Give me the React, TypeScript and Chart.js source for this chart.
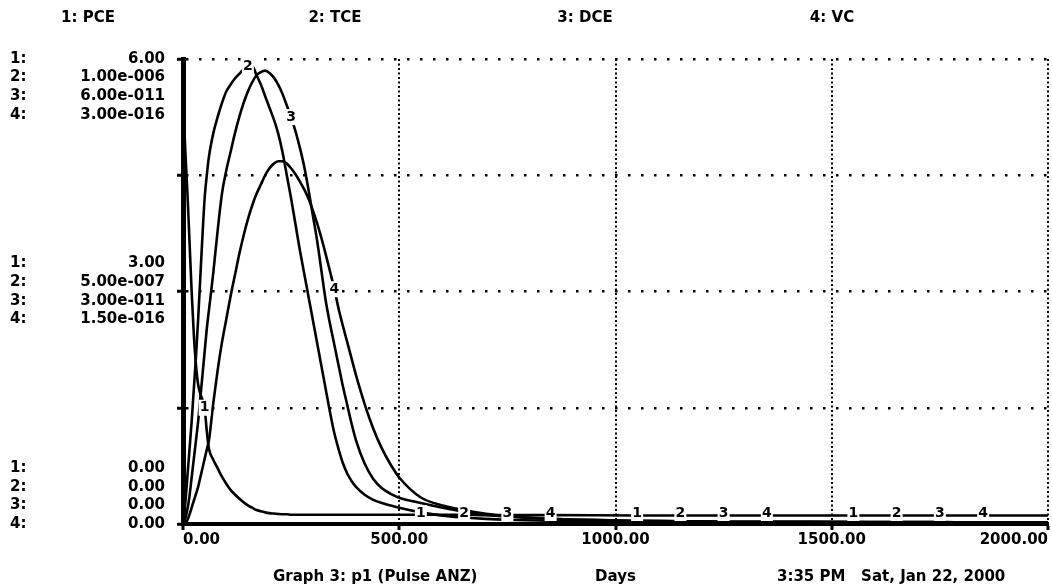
import React, { useEffect, useRef } from 'react';
import { Chart, registerables } from 'chart.js';

Chart.register(...registerables);

// ---- data (time in days) ----
const days = [
  0, 2, 5, 10, 15, 20, 25, 30, 35, 40, 45, 50, 55, 60,
  70, 80, 90, 100, 110, 120, 130, 140, 150, 160, 170, 180, 190, 200, 210, 220, 230, 240,
  250, 260, 270, 280, 290, 300, 310, 320, 330, 340, 350, 360, 370, 380, 390, 400,
  420, 440, 460, 480, 500,
  550, 600, 650, 700, 750,
  850, 1050, 1150, 1250, 1350, 1550, 1650, 1750, 1850, 2000,
];

const pce = [
  5.5, 5.25, 4.85, 4.3, 3.65, 3.0, 2.45, 2.05, 1.8, 1.68, 1.6, 1.5, 1.2, 0.97,
  0.83, 0.72, 0.61, 0.52, 0.44, 0.38, 0.33, 0.28, 0.24, 0.21, 0.18, 0.165, 0.15, 0.14, 0.135, 0.13, 0.125, 0.125,
  0.12, 0.12, 0.12, 0.12, 0.12, 0.12, 0.12, 0.12, 0.12, 0.12, 0.12, 0.12, 0.12, 0.12, 0.12, 0.12,
  0.12, 0.12, 0.12, 0.12, 0.12,
  0.12, 0.12, 0.12, 0.115, 0.115,
  0.115, 0.11, 0.11, 0.11, 0.11, 0.11, 0.11, 0.11, 0.11, 0.11,
];

const tce = [
  0, 1e-8, 4e-8, 1e-7, 1.6e-7, 2.2e-7, 2.9e-7, 3.6e-7, 4.4e-7, 5.3e-7, 6.2e-7, 7e-7, 7.5e-7, 7.9e-7,
  8.4e-7, 8.75e-7, 9.05e-7, 9.3e-7, 9.45e-7, 9.58e-7, 9.68e-7, 9.78e-7, 9.85e-7, 9.85e-7, 9.65e-7, 9.45e-7, 9.2e-7, 8.95e-7, 8.7e-7, 8.4e-7, 8e-7, 7.5e-7,
  7e-7, 6.45e-7, 5.9e-7, 5.4e-7, 4.9e-7, 4.4e-7, 3.9e-7, 3.4e-7, 2.9e-7, 2.4e-7, 1.95e-7, 1.6e-7, 1.3e-7, 1.08e-7, 9.2e-8, 8e-8,
  6.3e-8, 5.2e-8, 4.5e-8, 4e-8, 3.5e-8,
  2.5e-8, 1.8e-8, 1.4e-8, 1.1e-8, 9e-9,
  7e-9, 5e-9, 5e-9, 4e-9, 4e-9, 4e-9, 3e-9, 3e-9, 3e-9, 3e-9,
];

const dce = [
  0, 1.2e-13, 6e-13, 1.8e-12, 3.6e-12, 6e-12, 8.4e-12, 1.08e-11, 1.32e-11, 1.62e-11, 1.92e-11, 2.22e-11, 2.52e-11, 2.76e-11,
  3.24e-11, 3.78e-11, 4.26e-11, 4.56e-11, 4.8e-11, 5.04e-11, 5.25e-11, 5.43e-11, 5.58e-11, 5.7e-11, 5.79e-11, 5.83e-11, 5.85e-11, 5.82e-11, 5.76e-11, 5.67e-11, 5.55e-11, 5.4e-11,
  5.25e-11, 5.07e-11, 4.86e-11, 4.62e-11, 4.32e-11, 3.99e-11, 3.66e-11, 3.27e-11, 2.88e-11, 2.58e-11, 2.31e-11, 2.04e-11, 1.77e-11, 1.53e-11, 1.29e-11, 1.08e-11,
  7.8e-12, 5.8e-12, 4.6e-12, 3.9e-12, 3.4e-12,
  2.7e-12, 2.1e-12, 1.6e-12, 1.2e-12, 9.6e-13,
  6.6e-13, 4.2e-13, 3.6e-13, 3e-13, 3e-13, 2.4e-13, 2.4e-13, 2.4e-13, 1.8e-13, 1.8e-13,
];

const vc = [
  0, 0, 6e-19, 2.4e-18, 6e-18, 1.05e-17, 1.5e-17, 1.95e-17, 2.4e-17, 3e-17, 3.6e-17, 4.2e-17, 4.8e-17, 5.4e-17,
  7.8e-17, 9.9e-17, 1.17e-16, 1.32e-16, 1.47e-16, 1.605e-16, 1.74e-16, 1.86e-16, 1.965e-16, 2.055e-16, 2.13e-16, 2.19e-16, 2.25e-16, 2.295e-16, 2.325e-16, 2.34e-16, 2.34e-16, 2.325e-16,
  2.295e-16, 2.256e-16, 2.211e-16, 2.16e-16, 2.1e-16, 2.025e-16, 1.941e-16, 1.845e-16, 1.74e-16, 1.629e-16, 1.515e-16, 1.386e-16, 1.275e-16, 1.17e-16, 1.065e-16, 9.6e-17,
  7.74e-17, 6.15e-17, 4.86e-17, 3.84e-17, 3e-17,
  1.71e-17, 1.2e-17, 9e-18, 6.6e-18, 5.1e-18,
  3.3e-18, 2.1e-18, 1.8e-18, 1.5e-18, 1.5e-18, 1.2e-18, 1.2e-18, 1.2e-18, 9e-19, 9e-19,
];

const seriesNames = ['PCE', 'TCE', 'DCE', 'VC'];
const seriesPrefixes = ['1:', '2:', '3:', '4:'];
const scaleMax = [6, 1e-6, 6e-11, 3e-16];
const topTickLabels = ['6.00', '1.00e-006', '6.00e-011', '3.00e-016'];
const midTickLabels = ['3.00', '5.00e-007', '3.00e-011', '1.50e-016'];
const zeroTickLabels = ['0.00', '0.00', '0.00', '0.00'];
const xTickValues = [0, 500, 1000, 1500, 2000];
const xTickLabels = ['0.00', '500.00', '1000.00', '1500.00', '2000.00'];
const curveLabelDays = [
  [50, 550, 1050, 1550],
  [150, 650, 1150, 1650],
  [250, 750, 1250, 1750],
  [350, 850, 1350, 1850],
];
const xTitle = 'Days';
const footerText = 'Graph 3: p1 (Pulse ANZ)';
const stampText = '3:35 PM   Sat, Jan 22, 2000';

const FONT = '"DejaVu Sans", "Liberation Sans", Arial, sans-serif';

const textPlugin = {
  id: 'stellaText',
  afterDraw(chart: any) {
    const ctx = chart.ctx;
    ctx.save();
    ctx.fillStyle = '#000';
    ctx.font = `bold 15px ${FONT}`;
    ctx.textBaseline = 'middle';
    ctx.textAlign = 'center';
    const titleX = [88, 335, 585, 832];
    seriesNames.forEach((n, i) => ctx.fillText(`${i + 1}: ${n}`, titleX[i], 18));
    ctx.textAlign = 'left';
    ctx.fillText(footerText, 273, 577);
    ctx.fillText(stampText, 777, 577);
    ctx.restore();
  },
};

const curveLabelPlugin = {
  id: 'curveLabels',
  afterDatasetsDraw(chart: any) {
    const ctx = chart.ctx;
    const area = chart.chartArea;
    ctx.save();
    ctx.font = `bold 14px ${FONT}`;
    ctx.textAlign = 'center';
    ctx.textBaseline = 'middle';
    chart.data.datasets.forEach((_ds: any, i: number) => {
      const meta = chart.getDatasetMeta(i);
      curveLabelDays[i].forEach((d) => {
        const idx = days.indexOf(d);
        const pt = meta.data[idx];
        if (!pt) return;
        const x = pt.x;
        const y = Math.min(pt.y, area.bottom - 11);
        ctx.fillStyle = '#fff';
        ctx.fillRect(x - 6, y - 8, 12, 16);
        ctx.fillStyle = '#000';
        ctx.fillText(String(i + 1), x, y);
      });
    });
    ctx.restore();
  },
};

const near = (a: number, b: number) => Math.abs(a - b) < 1e-9;

export default function App() {
  const ref = useRef<HTMLCanvasElement | null>(null);

  useEffect(() => {
    if (!ref.current) return;
    Chart.defaults.font.family = FONT;
    Chart.defaults.color = '#000';
    const series = [pce, tce, dce, vc];
    const chart = new Chart(ref.current, {
      type: 'line',
      data: {
        datasets: series.map((vals, i) => ({
          label: seriesNames[i],
          data: days.map((d, j) => ({ x: d, y: vals[j] })),
          yAxisID: i === 0 ? 'y' : 'y' + (i + 1),
          borderColor: '#000',
          borderWidth: 2.6,
          pointRadius: 0,
          fill: false,
          cubicInterpolationMode: 'monotone' as const,
        })),
      },
      options: {
        responsive: false,
        animation: false,
        devicePixelRatio: 1,
        layout: { padding: { top: 59, right: 4, bottom: 0, left: 10 } },
        plugins: { legend: { display: false }, tooltip: { enabled: false } },
        scales: {
          x: {
            type: 'linear',
            min: 0,
            max: 2000,
            afterBuildTicks: (s: any) => {
              s.ticks = xTickValues.map((v) => ({ value: v }));
            },
            ticks: {
              align: 'inner',
              autoSkip: false,
              maxRotation: 0,
              padding: 1,
              color: '#000',
              font: { size: 15, weight: 'bold' },
              callback: (_v: any, idx: number) => xTickLabels[idx],
            },
            grid: {
              color: '#000',
              lineWidth: 2,
              drawTicks: true,
              tickLength: 6,
              tickWidth: 3,
              tickColor: '#000',
              tickBorderDash: [],
            },
            border: { display: true, color: '#000', width: 4, dash: [2, 2.5] },
            title: {
              display: true,
              text: xTitle,
              color: '#000',
              font: { size: 15, weight: 'bold' },
              padding: { top: 0, bottom: 0 },
            },
            afterFit: (s: any) => {
              s.height = 62;
              s.paddingLeft = 0;
              s.paddingRight = 0;
            },
          },
          y: {
            type: 'linear',
            position: 'left',
            min: 0,
            max: scaleMax[0],
            weight: 0,
            ticks: {
              stepSize: 1.5,
              autoSkip: false,
              padding: 12,
              crossAlign: 'near',
              color: '#000',
              font: { size: 15, weight: 'bold', lineHeight: 1.24 },
              callback: (v: any) => {
                const n = Number(v);
                if (near(n, 6)) return ['', '', '', ...topTickLabels];
                if (near(n, 3)) return midTickLabels;
                if (near(n, 0)) return [...zeroTickLabels, '', '', ''];
                return '';
              },
            },
            grid: {
              color: '#000',
              lineWidth: 2.5,
              drawTicks: true,
              tickLength: 6,
              tickWidth: 3,
              tickColor: '#000',
              tickBorderDash: [],
            },
            border: { display: true, color: '#000', width: 5, dash: [2.5, 10.5] },
            afterFit: (s: any) => {
              s.width = 135;
              s.paddingTop = 0;
              s.paddingBottom = 0;
            },
          },
          yLabels: {
            type: 'linear',
            position: 'left',
            min: 0,
            max: 6,
            weight: 1,
            ticks: {
              stepSize: 1.5,
              autoSkip: false,
              padding: 0,
              crossAlign: 'far',
              color: '#000',
              font: { size: 15, weight: 'bold', lineHeight: 1.24 },
              callback: (v: any) => {
                const n = Number(v);
                if (near(n, 6)) return ['', '', '', ...seriesPrefixes];
                if (near(n, 3)) return seriesPrefixes;
                if (near(n, 0)) return [...seriesPrefixes, '', '', ''];
                return '';
              },
            },
            grid: { display: false },
            border: { display: false },
            afterFit: (s: any) => {
              s.width = 38;
              s.paddingTop = 0;
              s.paddingBottom = 0;
            },
          },
          y2: { type: 'linear', display: false, min: 0, max: scaleMax[1] },
          y3: { type: 'linear', display: false, min: 0, max: scaleMax[2] },
          y4: { type: 'linear', display: false, min: 0, max: scaleMax[3] },
        },
      } as any,
      plugins: [curveLabelPlugin, textPlugin],
    });
    return () => chart.destroy();
  }, []);

  return (
    <div style={{ position: 'fixed', left: 0, top: 0, width: 1052, height: 586, background: '#fff' }}>
      <canvas ref={ref} width={1052} height={586} style={{ width: 1052, height: 586, display: 'block' }} />
    </div>
  );
}
